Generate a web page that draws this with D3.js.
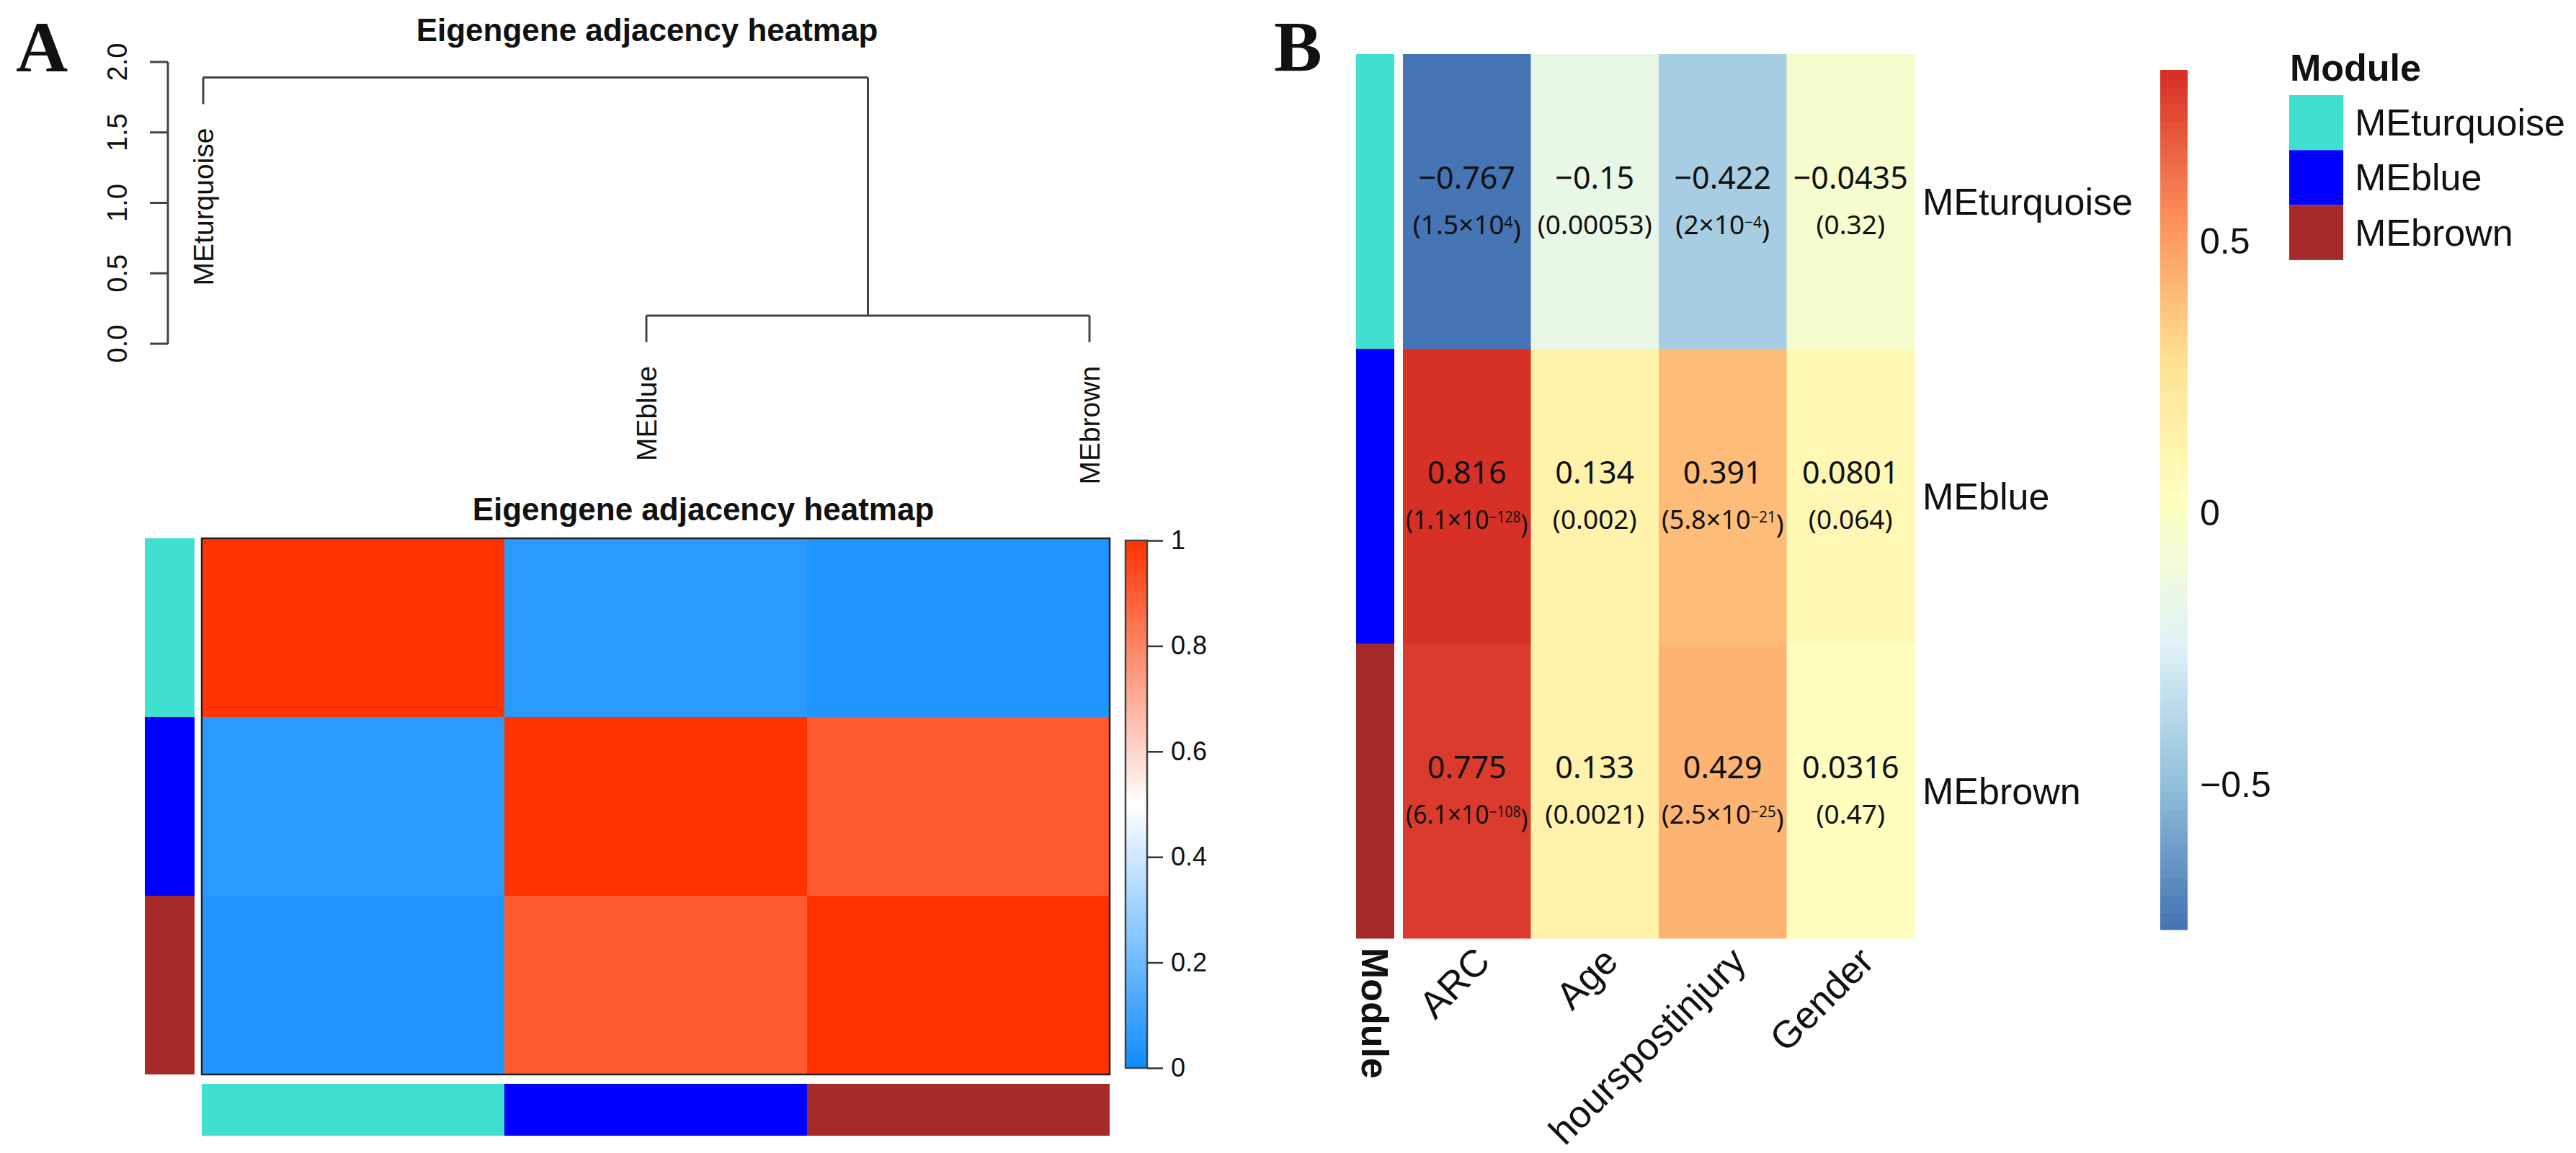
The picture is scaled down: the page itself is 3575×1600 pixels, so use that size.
<!DOCTYPE html>
<html>
<head>
  <meta charset="utf-8">
  <title>Eigengene adjacency and module-trait heatmaps</title>
  <script src="https://d3js.org/d3.v7.min.js"></script>
  <style>
    body { margin: 0; background: #fff; }
    svg text { fill: #111; }
  </style>
</head>
<body>
<div id="chart"></div>
<script>
// ---- data ----
var modules = ["MEturquoise", "MEblue", "MEbrown"];
var moduleColors = ["#40E0D0", "#0000FF", "#A52A2A"];
// eigengene adjacency (rows/cols in module order)
var adjacency = [
  [1.00, 0.06, 0.04],
  [0.06, 1.00, 0.905],
  [0.04, 0.905, 1.00]
];
// dendrogram merges: [left, right, height]; clusters are named "c0","c1"...
var merges = [
  ["MEblue", "MEbrown", 0.20],
  ["MEturquoise", "c0", 1.89]
];
var dendroTicks = [0, 0.5, 1, 1.5, 2];
var adjTicks = [0, 0.2, 0.4, 0.6, 0.8, 1];

var traits = ["ARC", "Age", "hourspostinjury", "Gender"];
var corValues = [
  [-0.767, -0.15, -0.422, -0.0435],
  [0.816, 0.134, 0.391, 0.0801],
  [0.775, 0.133, 0.429, 0.0316]
];
// p-values, "^" marks the exponent part
var pValues = [
  ["1.5×10^4", "0.00053", "2×10^−4", "0.32"],
  ["1.1×10^−128", "0.002", "5.8×10^−21", "0.064"],
  ["6.1×10^−108", "0.0021", "2.5×10^−25", "0.47"]
];
var corTicks = [-0.5, 0, 0.5];

var W = 3575, H = 1600;
var svg = d3.select("#chart").append("svg")
  .attr("width", W).attr("height", H)
  .style("font-family", "'Liberation Sans', Arial, sans-serif");

svg.append("rect").attr("width", W).attr("height", H).attr("fill", "#fff");

// panel letters
svg.append("text").attr("x", 22).attr("y", 99)
  .style("font-family", "'Liberation Serif', 'Times New Roman', serif")
  .style("font-weight", "bold").style("font-size", "100px").text("A");
svg.append("text").attr("x", 1768).attr("y", 98)
  .style("font-family", "'Liberation Serif', 'Times New Roman', serif")
  .style("font-weight", "bold").style("font-size", "100px").text("B");

/* ---------- Panel A : dendrogram ---------- */
var dx = d3.scalePoint().domain(modules).range([282, 1512]);
var dy = d3.scaleLinear().domain([0, 2]).range([477, 86]);
var topHeight = d3.max(merges, function (m) { return m[2]; });
var hang = 0.1 * topHeight;

svg.append("text").attr("x", 898).attr("y", 57)
  .attr("text-anchor", "middle")
  .style("font-weight", "bold").style("font-size", "44px")
  .text("Eigengene adjacency heatmap");

// y axis (R style: line between first and last tick, labels parallel to axis)
var yAxis = svg.append("g").attr("class", "dendro-axis");
yAxis.append("line")
  .attr("x1", 233).attr("x2", 233)
  .attr("y1", dy(dendroTicks[0])).attr("y2", dy(dendroTicks[dendroTicks.length - 1]))
  .attr("stroke", "#444").attr("stroke-width", 3);
yAxis.selectAll("line.tick").data(dendroTicks).enter().append("line")
  .attr("class", "tick")
  .attr("x1", 208).attr("x2", 233)
  .attr("y1", function (d) { return dy(d); }).attr("y2", function (d) { return dy(d); })
  .attr("stroke", "#444").attr("stroke-width", 3);
yAxis.selectAll("text").data(dendroTicks).enter().append("text")
  .attr("transform", function (d) { return "translate(163," + dy(d) + ") rotate(-90)"; })
  .attr("text-anchor", "middle").attr("dominant-baseline", "central")
  .style("font-size", "38px")
  .text(d3.format(".1f"));

// build node positions
var nodes = {};
modules.forEach(function (m) { nodes[m] = { x: dx(m), h: null, leaf: true }; });
var dendroG = svg.append("g").attr("fill", "none").attr("stroke", "#444").attr("stroke-width", 3);
merges.forEach(function (m, i) {
  var a = nodes[m[0]], b = nodes[m[1]], h = m[2];
  [a, b].forEach(function (n) {
    var bottom = n.leaf ? h - hang : n.h;
    if (n.leaf) n.end = bottom;
    dendroG.append("line")
      .attr("x1", n.x).attr("x2", n.x)
      .attr("y1", dy(bottom)).attr("y2", dy(h));
  });
  dendroG.append("line")
    .attr("x1", a.x).attr("x2", b.x)
    .attr("y1", dy(h)).attr("y2", dy(h));
  nodes["c" + i] = { x: (a.x + b.x) / 2, h: h, leaf: false };
});
// leaf labels hanging below the leaves
svg.selectAll("text.leaf").data(modules).enter().append("text")
  .attr("class", "leaf")
  .attr("transform", function (d) {
    return "translate(" + nodes[d].x + "," + (dy(nodes[d].end) + 33) + ") rotate(-90)";
  })
  .attr("text-anchor", "end").attr("dominant-baseline", "central")
  .style("font-size", "39px")
  .text(function (d) { return d; });

/* ---------- Panel A : adjacency heatmap ---------- */
var hx = d3.scaleBand().domain(modules).range([280, 1540]);
var hy = d3.scaleBand().domain(modules).range([747, 1491]);
var adjColor = d3.scaleLinear().domain([0, 0.5, 1]).range(["#0D8CFF", "#FFFFFF", "#FF3300"]);

svg.append("text").attr("x", 976).attr("y", 722)
  .attr("text-anchor", "middle")
  .style("font-weight", "bold").style("font-size", "44px")
  .text("Eigengene adjacency heatmap");

var cellsA = [];
modules.forEach(function (r, i) {
  modules.forEach(function (c, j) { cellsA.push({ row: r, col: c, v: adjacency[i][j] }); });
});
svg.append("g").selectAll("rect").data(cellsA).enter().append("rect")
  .attr("x", function (d) { return hx(d.col); })
  .attr("y", function (d) { return hy(d.row); })
  .attr("width", hx.bandwidth()).attr("height", hy.bandwidth())
  .attr("fill", function (d) { return adjColor(d.v); });
svg.append("rect")
  .attr("x", 280).attr("y", 747).attr("width", 1260).attr("height", 744)
  .attr("fill", "none").attr("stroke", "#222").attr("stroke-width", 2.5);

// side colour bars
svg.append("g").selectAll("rect").data(modules).enter().append("rect")
  .attr("x", 201).attr("width", 69)
  .attr("y", function (d) { return hy(d); }).attr("height", hy.bandwidth())
  .attr("fill", function (d, i) { return moduleColors[i]; });
svg.append("g").selectAll("rect").data(modules).enter().append("rect")
  .attr("y", 1504).attr("height", 72)
  .attr("x", function (d) { return hx(d); }).attr("width", hx.bandwidth())
  .attr("fill", function (d, i) { return moduleColors[i]; });

// colour key
var ky = d3.scaleLinear().domain([0, 1]).range([1482, 750]);
var keySteps = d3.range(0, 100).map(function (i) { return i / 100; });
svg.append("g").selectAll("rect").data(keySteps).enter().append("rect")
  .attr("x", 1562).attr("width", 30)
  .attr("y", function (d) { return ky(d + 0.01); })
  .attr("height", Math.abs(ky(0.01) - ky(0)) + 0.6)
  .attr("fill", function (d) { return adjColor(d + 0.005); });
svg.append("rect").attr("x", 1562).attr("y", 750).attr("width", 30).attr("height", 732)
  .attr("fill", "none").attr("stroke", "#444").attr("stroke-width", 2.5);
var keyAxis = svg.append("g").attr("transform", "translate(1592,0)")
  .call(d3.axisRight(ky).tickValues(adjTicks).tickSize(22).tickSizeOuter(0)
    .tickFormat(function (d) { return d === 0 || d === 1 ? d3.format("d")(d) : d3.format(".1f")(d); }));
keyAxis.select(".domain").remove();
keyAxis.selectAll("line").attr("stroke", "#333").attr("stroke-width", 2.5);
keyAxis.selectAll("text").attr("x", 33).style("font-size", "36px")
  .style("font-family", "'Liberation Sans', Arial, sans-serif").attr("fill", "#111");

/* ---------- Panel B : module-trait heatmap ---------- */
var bx = d3.scaleBand().domain(traits).range([1947, 2657]);
var by = d3.scaleBand().domain(modules).range([75, 1302]);
var ext = d3.extent(d3.merge(corValues));
var rdylbu7 = ["#4575B4", "#91BFDB", "#E0F3F8", "#FFFFBF", "#FEE090", "#FC8D59", "#D73027"];
var palette = d3.quantize(d3.piecewise(d3.interpolateRgb, rdylbu7), 100);
var corColor = d3.scaleQuantize().domain(ext).range(palette);

var cellsB = [];
modules.forEach(function (r, i) {
  traits.forEach(function (t, j) {
    cellsB.push({ row: r, col: t, v: corValues[i][j], p: pValues[i][j] });
  });
});
svg.append("g").selectAll("rect").data(cellsB).enter().append("rect")
  .attr("x", function (d) { return bx(d.col); })
  .attr("y", function (d) { return by(d.row); })
  .attr("width", bx.bandwidth() + 0.5).attr("height", by.bandwidth() + 0.5)
  .attr("fill", function (d) { return corColor(d.v); });

// module annotation column
svg.append("g").selectAll("rect").data(modules).enter().append("rect")
  .attr("x", 1882).attr("width", 53)
  .attr("y", function (d) { return by(d); }).attr("height", by.bandwidth() + 0.5)
  .attr("fill", function (d, i) { return moduleColors[i]; });

// cell labels
var fmtCor = function (v) { return (v < 0 ? "\u2212" : "") + Math.abs(v); };
var cellText = svg.append("g")
  .style("font-family", "'Noto Sans', 'Open Sans', sans-serif")
  .attr("text-anchor", "middle");
cellText.selectAll("text.val").data(cellsB).enter().append("text")
  .attr("class", "val")
  .attr("x", function (d) { return bx(d.col) + bx.bandwidth() / 2; })
  .attr("y", function (d) { return by(d.row) + by.bandwidth() / 2 - 34; })
  .attr("dominant-baseline", "central")
  .style("font-size", "43px")
  .text(function (d) { return fmtCor(d.v); });
cellText.selectAll("text.pv").data(cellsB).enter().append("text")
  .attr("class", "pv")
  .style("font-size", "37px")
  .each(function (d) {
    var t = d3.select(this);
    var parts = d.p.split("^");
    t.append("tspan").text("(" + parts[0]);
    if (parts.length > 1) {
      t.append("tspan").attr("dy", "-0.4em").style("font-size", "21px").text(parts[1]);
      t.append("tspan").attr("dy", "0.4em").text(")");
    } else {
      t.append("tspan").text(")");
    }
    // squeeze long labels horizontally so they stay inside the cell
    var maxW = bx.bandwidth() - 8;
    var w = this.getComputedTextLength();
    var sx = w > maxW ? maxW / w : 1;
    var cx = bx(d.col) + bx.bandwidth() / 2;
    var cyy = by(d.row) + by.bandwidth() / 2 + 45;
    t.attr("transform", "translate(" + cx + "," + cyy + ") scale(" + sx + ",1)");
  });

// row labels
svg.selectAll("text.rowlab").data(modules).enter().append("text")
  .attr("class", "rowlab")
  .attr("x", 2668)
  .attr("y", function (d) { return by(d) + by.bandwidth() / 2; })
  .attr("dominant-baseline", "central")
  .style("font-size", "52px")
  .text(function (d) { return d; });

// column labels
svg.selectAll("text.collab").data(traits).enter().append("text")
  .attr("class", "collab")
  .attr("transform", function (d) {
    return "translate(" + (bx(d) + bx.bandwidth() / 2 + 8) + ",1310) rotate(-45)";
  })
  .attr("text-anchor", "end").attr("dominant-baseline", "hanging")
  .style("font-size", "53px")
  .text(function (d) { return d; });

svg.append("text")
  .attr("transform", "translate(1908,1315) rotate(90)")
  .attr("dominant-baseline", "central")
  .style("font-weight", "bold").style("font-size", "52px")
  .text("Module");

// colour key B
var cy = d3.scaleLinear().domain(ext).range([1290, 97]);
var stepB = (ext[1] - ext[0]) / 100;
var keyB = d3.range(0, 100).map(function (i) { return ext[0] + i * stepB; });
svg.append("g").selectAll("rect").data(keyB).enter().append("rect")
  .attr("x", 2998).attr("width", 38)
  .attr("y", function (d) { return cy(d + stepB); })
  .attr("height", Math.abs(cy(stepB) - cy(0)) + 0.6)
  .attr("fill", function (d) { return corColor(d + stepB / 2); });
svg.selectAll("text.keyb").data(corTicks).enter().append("text")
  .attr("class", "keyb")
  .attr("x", 3053).attr("y", function (d) { return cy(d); })
  .attr("dominant-baseline", "central")
  .style("font-size", "50px")
  .text(function (d) { return d < 0 ? "\u2212" + Math.abs(d) : d; });

// module legend
svg.append("text").attr("x", 3178).attr("y", 112)
  .style("font-weight", "bold").style("font-size", "52px").text("Module");
var leg = svg.append("g").selectAll("g").data(modules).enter().append("g")
  .attr("transform", function (d, i) { return "translate(3177," + (132 + i * 76.3) + ")"; });
leg.append("rect").attr("width", 75).attr("height", 76.3)
  .attr("fill", function (d, i) { return moduleColors[i]; });
leg.append("text").attr("x", 91).attr("y", 38)
  .attr("dominant-baseline", "central")
  .style("font-size", "52px")
  .text(function (d) { return d; });
</script>
</body>
</html>
